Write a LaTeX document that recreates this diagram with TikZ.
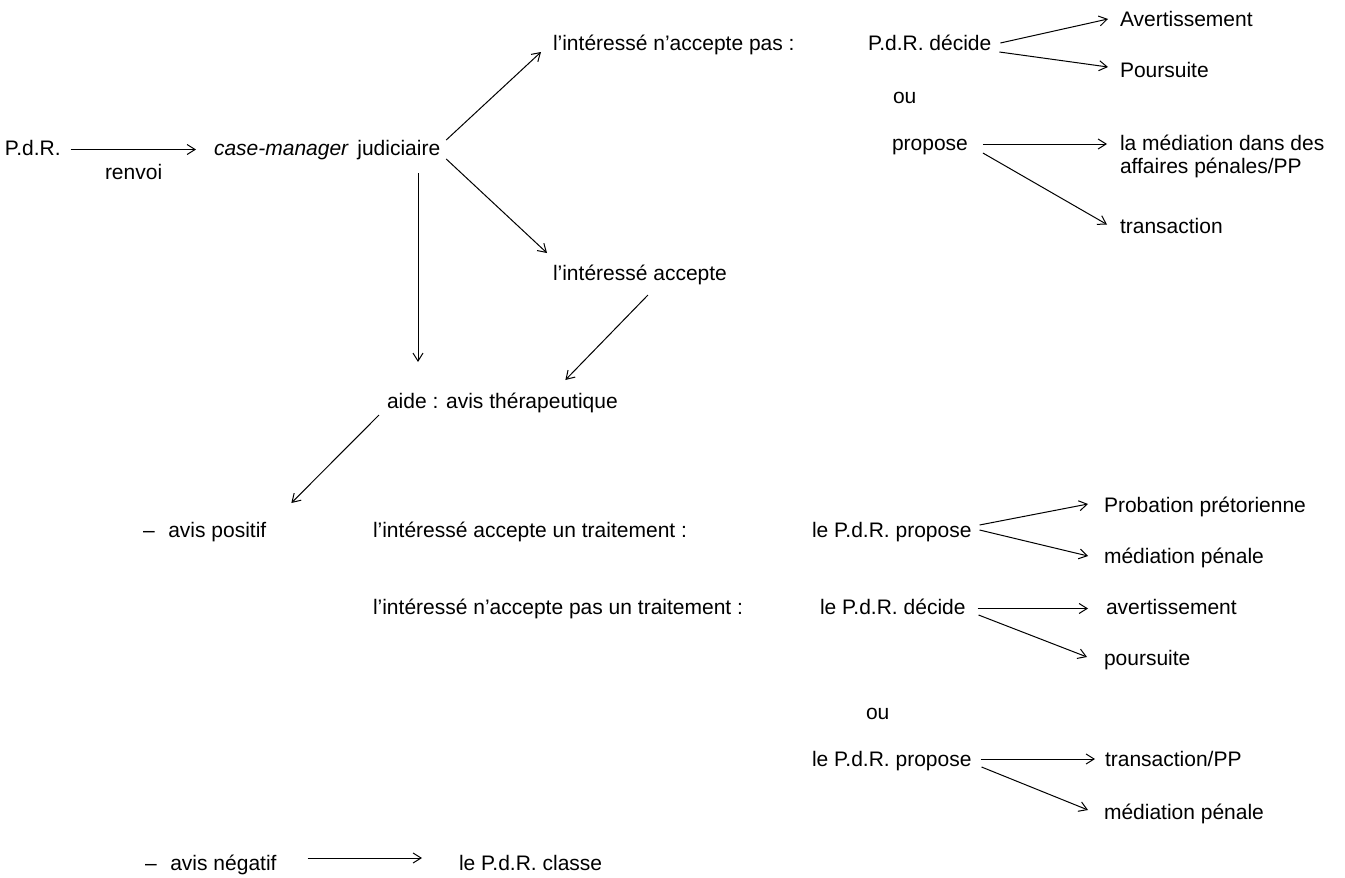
\documentclass[tikz,border=0pt]{standalone}
\usepackage{fontspec}
\setmainfont{Liberation Sans}
\usetikzlibrary{arrows.meta,calc}
\begin{document}
\begin{tikzpicture}[x=1pt,y=-1pt,
  lbl/.style={font=\fontsize{21}{25}\selectfont, inner sep=0pt, outer sep=0pt,
              text height=15pt, text depth=4pt, anchor=base west},
  arr/.style={line width=1pt, -{Straight Barb[length=8pt,width=10pt,line width=1pt]}}]
\useasboundingbox (0,0) rectangle (1345,878);

% top part
\node[lbl] (pdr)    at (5,155)    {P.d.R.};
\node[lbl] (renvoi) at (105,179)  {renvoi};
\node[lbl] (cm)     at (214,155)  {\textit{case-manager}\hspace{0.4em}judiciaire};
\node[lbl] (nap)    at (553,50)   {l’intéressé n’accepte pas :};
\node[lbl] (acc)    at (553,280)  {l’intéressé accepte};
\node[lbl] (pdec)   at (868,50)   {P.d.R. décide};
\node[lbl] (avert)  at (1120,26)  {Avertissement};
\node[lbl] (pours)  at (1120,77)  {Poursuite};
\node[lbl] (ou1)    at (893,103)  {ou};
\node[lbl] (prop)   at (892,150)  {propose};
\node[lbl] (med1)   at (1120,150) {la médiation dans des};
\node[lbl] (med1b)  at (1120,173) {affaires pénales/PP};
\node[lbl] (trans)  at (1120,233) {transaction};
\node[lbl] (aide)   at (387,408)  {aide : avis thérapeutique};

% middle part
\node[lbl] (pos)    at (143,537)  {–\hspace{0.65em}avis positif};
\node[lbl] (acct)   at (373,537)  {l’intéressé accepte un traitement :};
\node[lbl] (pp1)    at (812,537)  {le P.d.R. propose};
\node[lbl] (prob)   at (1104,512) {Probation prétorienne};
\node[lbl] (medp1)  at (1104,563) {médiation pénale};
\node[lbl] (nacct)  at (373,614)  {l’intéressé n’accepte pas un traitement :};
\node[lbl] (pdec2)  at (820,614)  {le P.d.R. décide};
\node[lbl] (avert2) at (1106,614) {avertissement};
\node[lbl] (pours2) at (1104,665) {poursuite};
\node[lbl] (ou2)    at (866,719)  {ou};
\node[lbl] (pp2)    at (812,766)  {le P.d.R. propose};
\node[lbl] (trpp)   at (1105,766) {transaction/PP};
\node[lbl] (medp2)  at (1104,819) {médiation pénale};

% bottom
\node[lbl] (neg)    at (145,870)  {–\hspace{0.65em}avis négatif};
\node[lbl] (classe) at (459,870)  {le P.d.R. classe};

% connectors
\draw[arr] ($(pdr.east)+(10,0)$) -- ($(cm.west)+(-18,0)$);
\draw[arr] ($(cm.north east)+(6,0)$) -- ($(nap.south west)+(-12,-2)$);
\draw[arr] ($(cm.south east)+(6,0)$) -- ($(acc.north west)+(-6,-12)$);
\draw[arr] ($(aide.north west |- cm.south)+(31,14)$) -- ($(aide.north west)+(31,-31)$);
\draw[arr] ($(acc.south)+(8,11)$) -- ($(aide.north)+(63,-13)$);
\draw[arr] ($(aide.south west)+(-8,3)$) -- ($(pos.north east)+(25,-19)$);

\draw[arr] ($(pdec.east)+(9,-1.5)$) -- ($(avert.west)+(-12,-1.5)$);
\draw[arr] ($(pdec.east)+(8,7.5)$) -- ($(pours.west)+(-12,-4.5)$);
\draw[arr] ($(prop.east)+(15,-0.5)$) -- ($(med1.west)+(-13,-0.5)$);
\draw[arr] ($(prop.east)+(15,8.5)$) -- ($(trans.west)+(-13,-3)$);

\draw[arr] ($(pp1.east)+(8,-6.5)$) -- ($(prob.west)+(-16,-2.5)$);
\draw[arr] ($(pp1.east)+(8,-1.5)$) -- ($(medp1.west)+(-16,-1.5)$);
\draw[arr] ($(pdec2.east)+(12,0)$) -- ($(avert2.west)+(-18,0)$);
\draw[arr] ($(pdec2.east)+(13,6.5)$) -- ($(pours2.west)+(-17,-2.5)$);
\draw[arr] ($(pp2.east)+(9,-1.5)$) -- ($(trpp.west)+(-10,-1.5)$);
\draw[arr] ($(pp2.east)+(10,6.5)$) -- ($(medp2.west)+(-16,-3.5)$);

\draw[arr] ($(neg.east)+(31,-6.5)$) -- ($(classe.west)+(-37,-6.5)$);
\end{tikzpicture}
\end{document}
